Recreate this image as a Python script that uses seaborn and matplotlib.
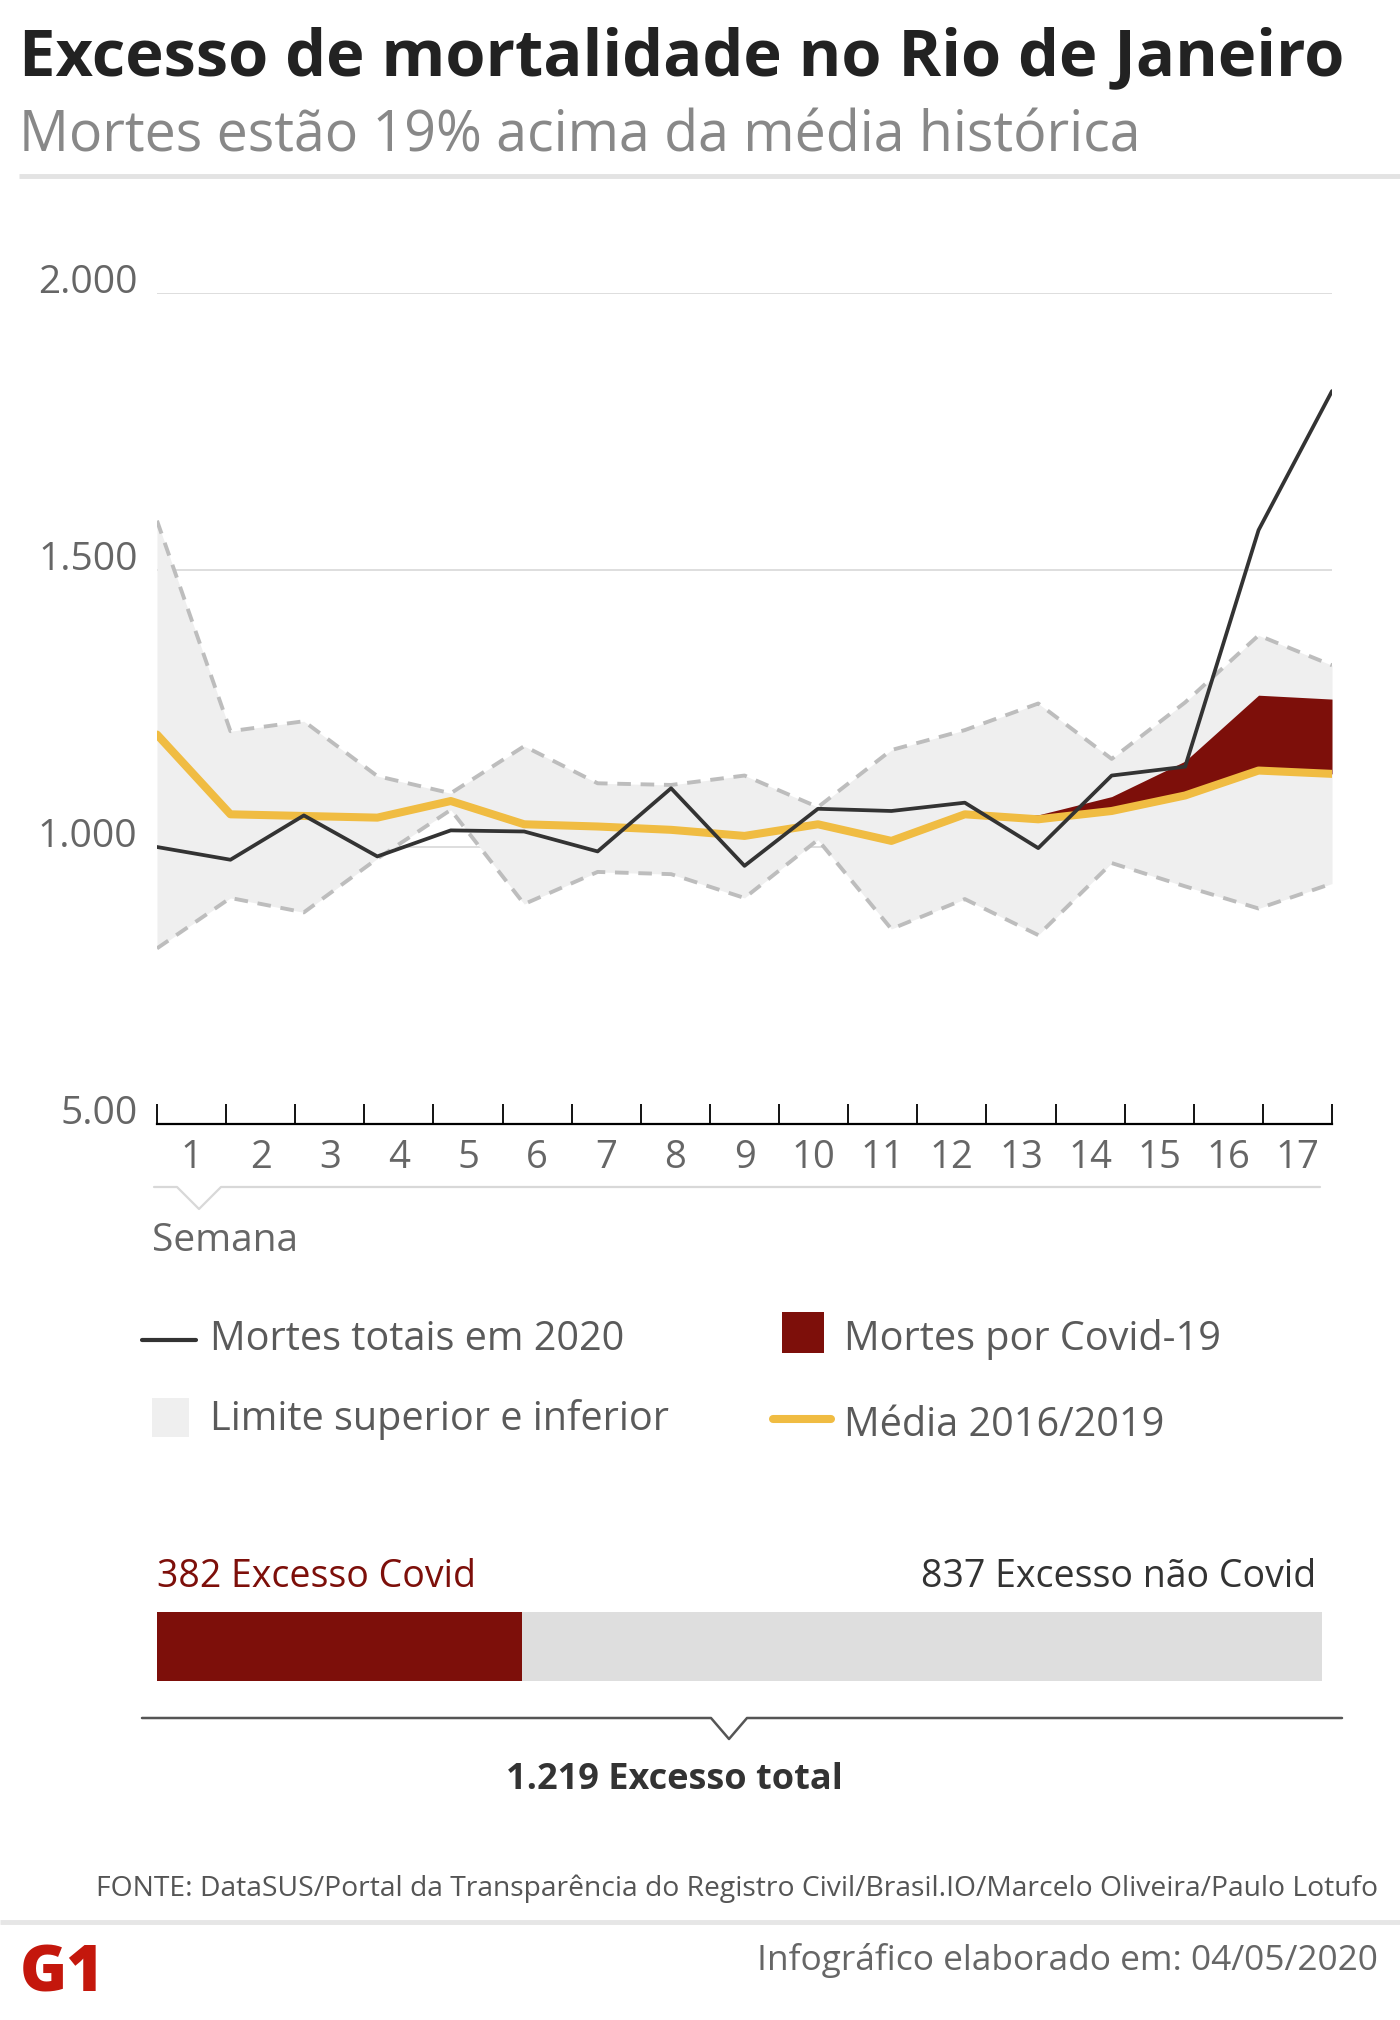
import numpy as np
import matplotlib
matplotlib.use("Agg")
import matplotlib.pyplot as plt
import seaborn as sns
import pandas as pd
from matplotlib.patches import Rectangle
from matplotlib.lines import Line2D

# semanas epidemiológicas
semanas = list(range(1, 18))
mortes_2020 = [1000, 977, 1057, 983, 1030, 1028, 992, 1106, 966, 1069, 1065, 1080, 998, 1129, 1145, 1572, 1823]
media_2016_2019 = [1203, 1059, 1056, 1053, 1083, 1041, 1037, 1031, 1020, 1041, 1011, 1059, 1050, 1065, 1093, 1138, 1132]
limite_sup = [1589, 1209, 1227, 1128, 1097, 1182, 1115, 1112, 1129, 1072, 1175, 1211, 1259, 1159, 1261, 1382, 1328]
limite_inf = [817, 908, 882, 979, 1067, 897, 955, 951, 908, 1013, 852, 906, 841, 971, 929, 889, 934]
covid = [0, 0, 0, 0, 0, 0, 0, 0, 0, 0, 0, 0, 8, 26, 62, 136, 135]

yticks = [500, 1000, 1500, 2000]
ytick_labels = ["5.00", "1.000", "1.500", "2.000"]

excesso_covid = 382
excesso_nao_covid = 837
excesso_total = 1219

df = pd.DataFrame({"semana": semanas, "total": mortes_2020, "media": media_2016_2019,
                   "sup": limite_sup, "inf": limite_inf, "covid": covid})
df["covid_top"] = df["media"] + df["covid"]

RED = "#7d0f0a"
YELLOW = "#f0bc42"
DARK = "#333333"
GRAY_TXT = "#5a5a5a"

sns.set_theme(style="white")
plt.rcParams["font.family"] = ["Open Sans", "DejaVu Sans"]

W, H = 1400, 2020
fig = plt.figure(figsize=(W / 100, H / 100), dpi=100)

# ---- main chart
ax = fig.add_axes([157 / W, 1 - 1124 / H, (1332 - 157) / W, (1124 - 293) / H])
ax.fill_between(df["semana"], df["inf"], df["sup"], color="#efefef", lw=0, zorder=1)
sns.lineplot(data=df, x="semana", y="sup", ax=ax, color="#bdbdbd", lw=2.8,
             linestyle=(0, (3.5, 2.5)), zorder=2)
sns.lineplot(data=df, x="semana", y="inf", ax=ax, color="#bdbdbd", lw=2.8,
             linestyle=(0, (3.5, 2.5)), zorder=2)
ax.fill_between(df["semana"], df["media"], df["covid_top"], color=RED, lw=0, zorder=3)
sns.lineplot(data=df, x="semana", y="media", ax=ax, color=YELLOW, lw=5.8, zorder=4)
sns.lineplot(data=df, x="semana", y="total", ax=ax, color=DARK, lw=2.7, zorder=5)

ax.set_xlim(1, 17)
ax.set_ylim(500, 2000)
ax.set_xlabel("")
ax.set_ylabel("")
for s in ["top", "right", "left"]:
    ax.spines[s].set_visible(False)
ax.spines["bottom"].set_color("black")
ax.spines["bottom"].set_linewidth(1.6)
ax.spines["bottom"].set_zorder(6)

ax.set_yticks(yticks)
ax.set_yticklabels(ytick_labels)
ax.tick_params(axis="y", length=0, pad=14, labelsize=28, labelcolor="#666666")
for t in ax.get_yticklabels():
    t.set_va("baseline")
ax.grid(axis="y", color="#d8d8d8", lw=1.2)
ax.grid(axis="x", visible=False)

ax.set_xticks(np.linspace(1, 17, 18))
ax.set_xticklabels([])
ax.set_xticks(1 + (np.arange(17) + 0.5) * 16 / 17, minor=True)
ax.set_xticklabels([str(s) for s in semanas], minor=True)
ax.tick_params(axis="x", which="major", direction="in", length=14.5, width=1.3,
               color="black", bottom=True)
ax.tick_params(axis="x", which="minor", length=0, pad=11, labelsize=27.5,
               labelcolor="#666666", bottom=True)

# ---- excess bar
ax2 = fig.add_axes([157 / W, 1 - 1681 / H, (1322 - 157) / W, (1681 - 1612) / H])
ax2.barh([0], [excesso_covid], height=1, color=RED, lw=0)
ax2.barh([0], [excesso_nao_covid], left=[excesso_covid], height=1, color="#dedede", lw=0)
ax2.set_xlim(0, excesso_total)
ax2.set_ylim(-0.5, 0.5)
ax2.axis("off")

# ---- overlay for texts and decorations (pixel units)
ov = fig.add_axes([0, 0, 1, 1])
ov.set_xlim(0, W)
ov.set_ylim(H, 0)
ov.axis("off")

ov.text(19, 75, "Excesso de mortalidade no Rio de Janeiro", fontsize=46.8,
        fontweight="bold", color="#222222", va="baseline")
ov.text(19, 152, "Mortes estão 19% acima da média histórica", fontsize=40,
        color="#888888", va="baseline")
ov.plot([19, W], [176, 176], color="#e3e3e3", lw=3.5, solid_capstyle="butt")

ov.plot([154, 177, 199, 221, 1320], [1187, 1187, 1209, 1187, 1187], color="#d8d8d8", lw=1.6)
ov.text(152, 1251, "Semana", fontsize=28, color="#666666", va="baseline")

# legend
ov.add_line(Line2D([142, 196], [1340, 1340], color=DARK, lw=3))
ov.text(210, 1350, "Mortes totais em 2020", fontsize=28.5, color=GRAY_TXT, va="baseline")
ov.add_patch(Rectangle((782, 1312), 42, 41, color=RED, lw=0))
ov.text(844, 1350, "Mortes por Covid-19", fontsize=28.5, color=GRAY_TXT, va="baseline")
ov.add_patch(Rectangle((152, 1398), 37, 39, color="#efefef", lw=0))
ov.text(210, 1430, "Limite superior e inferior", fontsize=28.5, color=GRAY_TXT, va="baseline")
ov.add_line(Line2D([773, 831], [1419, 1419], color=YELLOW, lw=5.8))
ov.text(844, 1436, "Média 2016/2019", fontsize=28.5, color=GRAY_TXT, va="baseline")

# bar labels
ov.text(157, 1587, f"{excesso_covid} Excesso Covid", fontsize=27, color=RED, va="baseline")
ov.text(1316, 1587, f"{excesso_nao_covid} Excesso não Covid", fontsize=27, color=DARK,
        va="baseline", ha="right")
ov.plot([142, 711, 729, 747, 1342], [1718, 1718, 1739, 1718, 1718], color="#555555", lw=1.8)
ov.text(674, 1789, "1.219 Excesso total", fontsize=26, fontweight="bold", color=DARK,
        va="baseline", ha="center")

# footer
ov.text(1378, 1896, "FONTE: DataSUS/Portal da Transparência do Registro Civil/Brasil.IO/Marcelo Oliveira/Paulo Lotufo",
        fontsize=20.3, color="#555555", va="baseline", ha="right")
ov.plot([0, W], [1922, 1922], color="#e6e6e6", lw=3.5, solid_capstyle="butt")
ov.text(20, 1992, "G1", fontsize=46, fontweight="heavy", color="#c4170c", va="baseline")
ov.text(1378, 1970, "Infográfico elaborado em: 04/05/2020", fontsize=25.4, color="#666666",
        va="baseline", ha="right")

fig.savefig("out.png", dpi=100)
